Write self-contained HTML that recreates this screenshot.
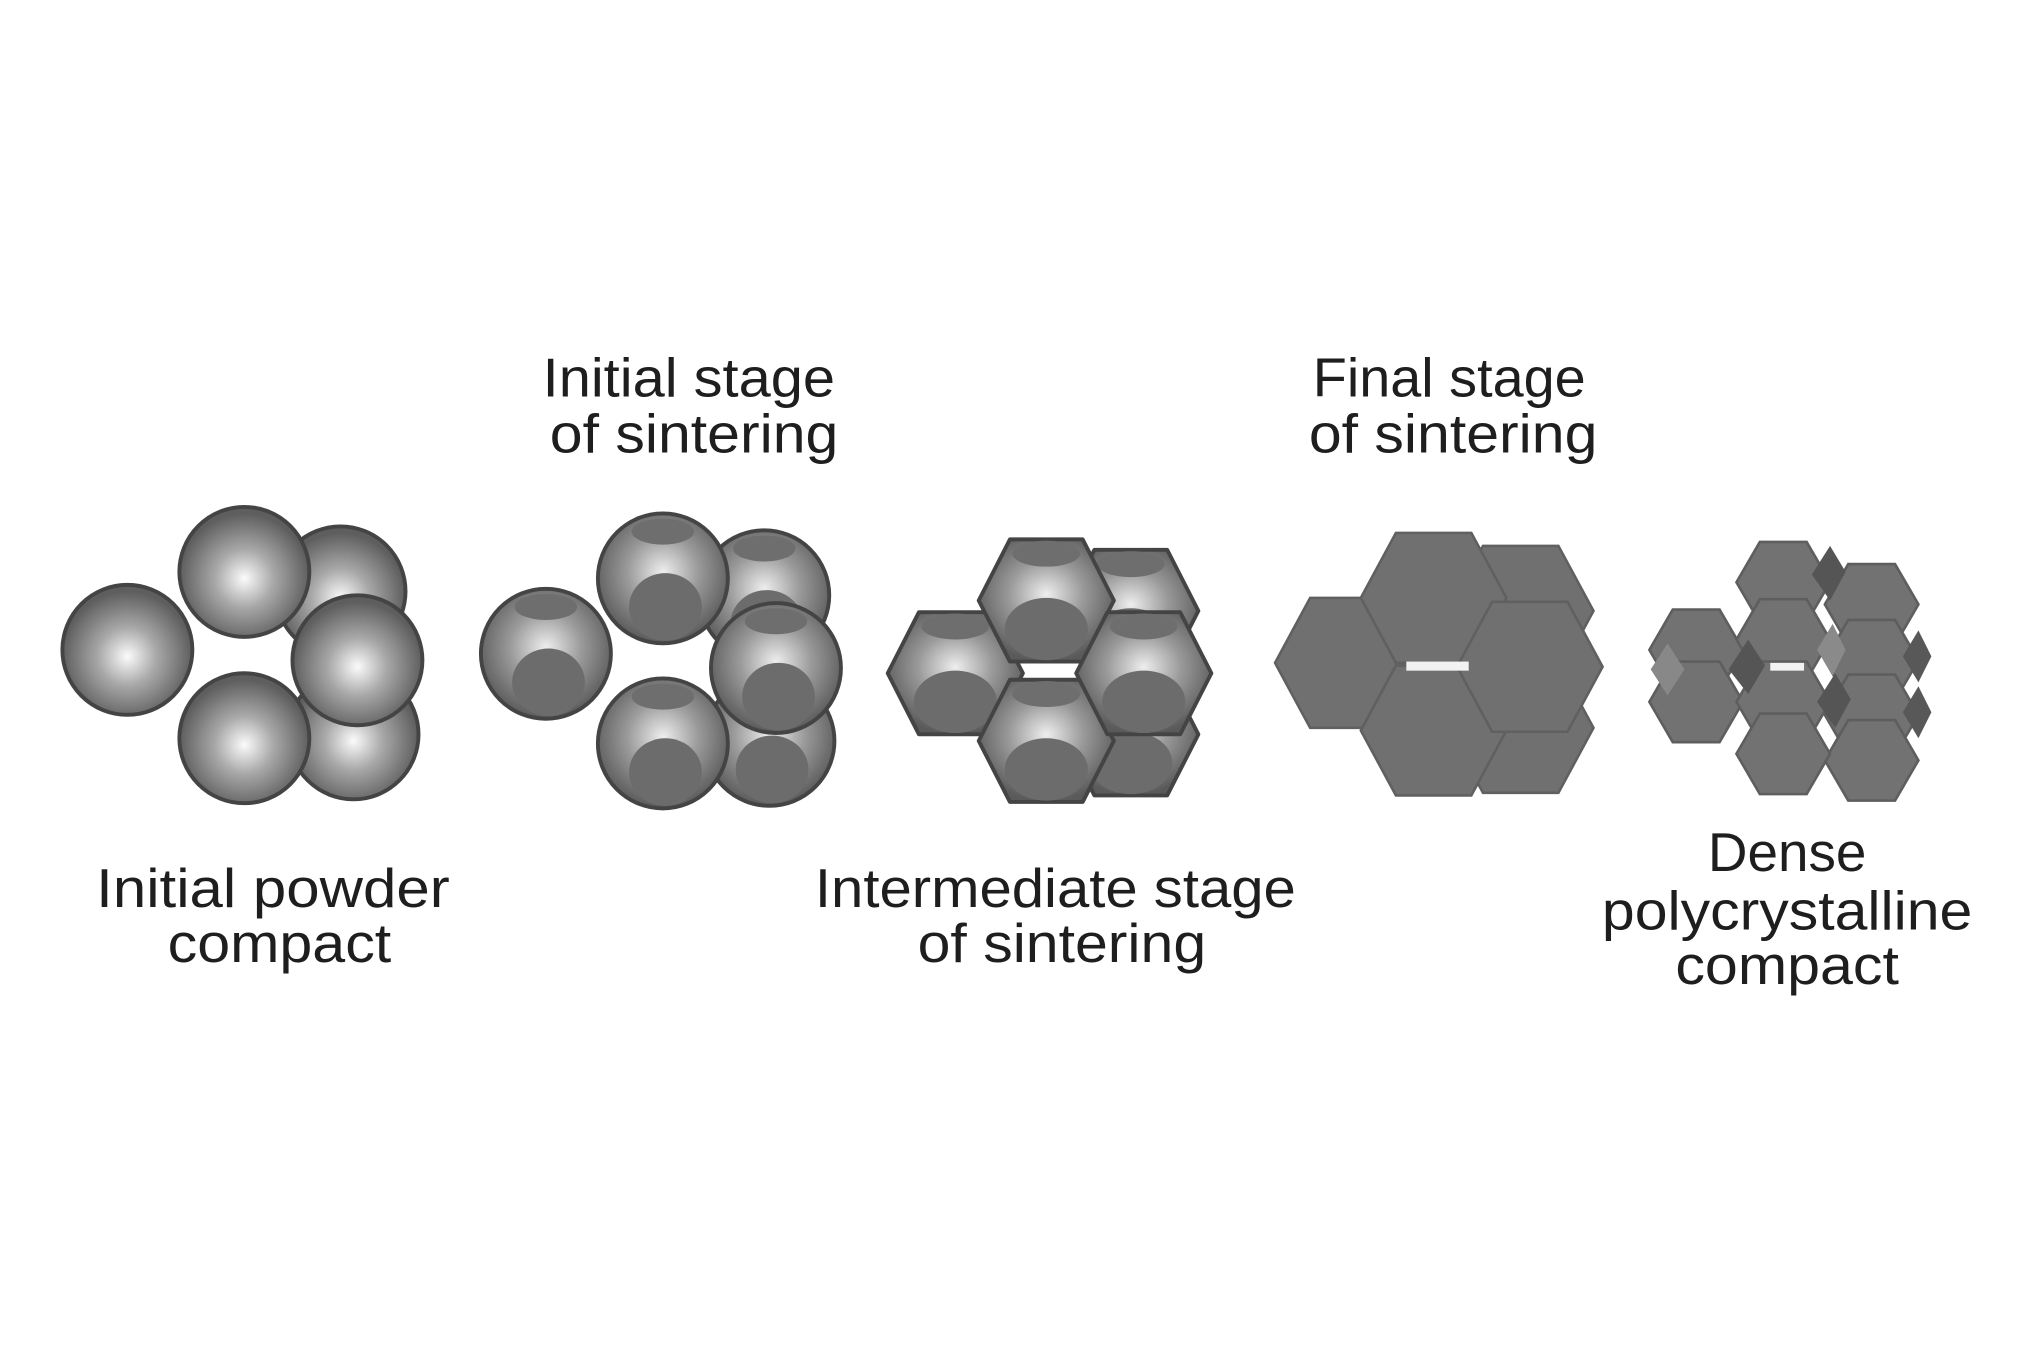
<!DOCTYPE html>
<html><head><meta charset="utf-8"><style>
html,body{margin:0;padding:0;background:#fff;}
svg{display:block;}
text{font-family:"Liberation Sans",sans-serif;fill:#1e1e1e;font-size:42px;}
</style></head><body>
<svg width="2038" height="1356" viewBox="0 0 1568 1043.3" preserveAspectRatio="none" xmlns="http://www.w3.org/2000/svg">
<defs>
<radialGradient id="sp" cx="0.5" cy="0.55" r="0.5">
<stop offset="0" stop-color="#fbfbfb"/><stop offset="0.45" stop-color="#a8a8a8"/><stop offset="1" stop-color="#5e5e5e"/>
</radialGradient>
<radialGradient id="sp2" cx="0.5" cy="0.45" r="0.55">
<stop offset="0" stop-color="#eeeeee"/><stop offset="0.5" stop-color="#9a9a9a"/><stop offset="1" stop-color="#5a5a5a"/>
</radialGradient>
<g id="ball"><circle r="50" fill="url(#sp)" stroke="#444" stroke-width="3"/></g>
<g id="ball2"><circle r="50" fill="url(#sp2)" stroke="#444" stroke-width="3"/>
<ellipse cx="0" cy="-36" rx="24" ry="10" fill="#6e6e6e"/>
<ellipse cx="2" cy="22" rx="28" ry="26" fill="#6c6c6c"/></g>
<g id="hx3"><polygon points="-52,0 -28,-47 28,-47 52,0 28,47 -28,47" fill="url(#sp2)" stroke="#444" stroke-width="3" stroke-linejoin="round"/>
<ellipse cx="0" cy="-36" rx="26" ry="10" fill="#6e6e6e"/>
<ellipse cx="0" cy="22" rx="32" ry="24" fill="#6c6c6c"/></g>
<g id="hx4"><polygon points="-56,0 -29,-50 29,-50 56,0 29,50 -29,50" fill="#707070" stroke="#606060" stroke-width="2"/></g>
<g id="hx5"><polygon points="-36,0 -18,-31 18,-31 36,0 18,31 -18,31" fill="#727272" stroke="#5e5e5e" stroke-width="2"/></g>
</defs>

<use href="#ball" x="262" y="455"/>
<use href="#ball" x="272" y="565"/>
<use href="#ball" x="98" y="500"/>
<use href="#ball" x="188" y="440"/>
<use href="#ball" x="188" y="568"/>
<use href="#ball" x="275" y="508"/>

<use href="#ball2" x="588" y="458"/>
<use href="#ball2" x="592" y="570"/>
<use href="#ball2" x="420" y="503"/>
<use href="#ball2" x="510" y="445"/>
<use href="#ball2" x="510" y="572"/>
<use href="#ball2" x="597" y="514"/>

<use href="#hx3" x="870" y="470"/>
<use href="#hx3" x="870" y="565"/>
<use href="#hx3" x="735" y="518"/>
<use href="#hx3" x="805" y="462"/>
<use href="#hx3" x="805" y="570"/>
<use href="#hx3" x="880" y="518"/>

<use href="#hx4" x="1170" y="470"/>
<use href="#hx4" x="1170" y="560"/>
<use href="#hx4" x="1037" y="510"/>
<use href="#hx4" x="1103" y="460"/>
<use href="#hx4" x="1103" y="562"/>
<use href="#hx4" x="1177" y="513"/>
<rect x="1082" y="509" width="48" height="7" fill="#f2f2f2"/>

<use href="#hx5" x="1440" y="465"/>
<use href="#hx5" x="1440" y="508"/>
<use href="#hx5" x="1440" y="550"/>
<use href="#hx5" x="1440" y="585"/>
<use href="#hx5" x="1372" y="448"/>
<use href="#hx5" x="1305" y="500"/>
<use href="#hx5" x="1305" y="540"/>
<use href="#hx5" x="1372" y="492"/>
<use href="#hx5" x="1372" y="540"/>
<use href="#hx5" x="1372" y="580"/>
<polygon points="1394,442 1408,420 1420,440 1408,462" fill="#555"/>
<polygon points="1330,515 1345,492 1358,512 1345,534" fill="#555"/>
<polygon points="1398,540 1412,518 1424,538 1412,560" fill="#555"/>
<polygon points="1464,505 1476,485 1486,505 1476,525" fill="#585858"/>
<polygon points="1464,548 1476,528 1486,548 1476,568" fill="#585858"/>
<polygon points="1270,515 1283,495 1296,515 1283,535" fill="#888"/>
<polygon points="1398,500 1410,480 1420,500 1410,520" fill="#8a8a8a"/>
<rect x="1362" y="510" width="26" height="6" fill="#f2f2f2"/>

<g text-anchor="middle">
<text x="530" y="305" textLength="225" lengthAdjust="spacingAndGlyphs">Initial stage</text>
<text x="534" y="348" textLength="222" lengthAdjust="spacingAndGlyphs">of sintering</text>
<text x="1115" y="305" textLength="210" lengthAdjust="spacingAndGlyphs">Final stage</text>
<text x="1118" y="348" textLength="222" lengthAdjust="spacingAndGlyphs">of sintering</text>
<text x="210" y="698" textLength="272" lengthAdjust="spacingAndGlyphs">Initial powder</text>
<text x="215" y="740" textLength="172" lengthAdjust="spacingAndGlyphs">compact</text>
<text x="812" y="698" textLength="370" lengthAdjust="spacingAndGlyphs">Intermediate stage</text>
<text x="817" y="740" textLength="222" lengthAdjust="spacingAndGlyphs">of sintering</text>
<text x="1375" y="670" textLength="122" lengthAdjust="spacingAndGlyphs">Dense</text>
<text x="1375" y="715" textLength="285" lengthAdjust="spacingAndGlyphs">polycrystalline</text>
<text x="1375" y="757" textLength="172" lengthAdjust="spacingAndGlyphs">compact</text>
</g>
</svg>
</body></html>
